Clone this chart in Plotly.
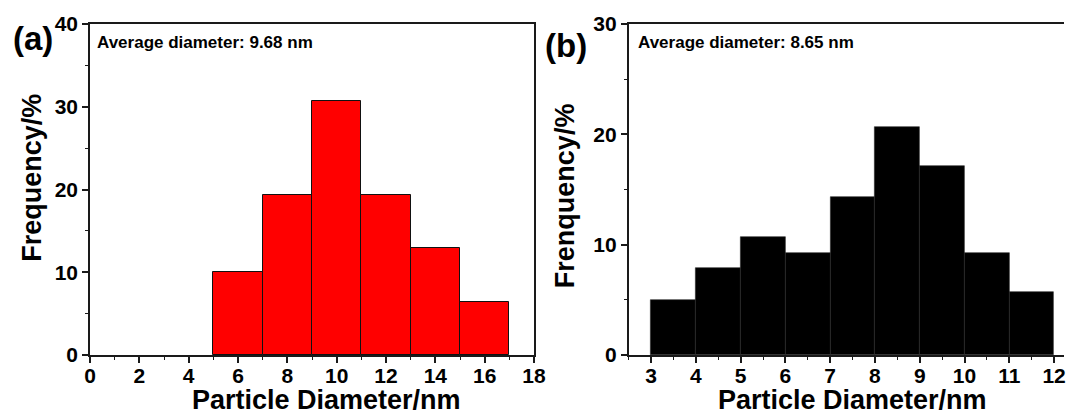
import plotly.graph_objects as go

# Panel (a): bin left edges (nm), bin width and frequency (%)
a_edges = [5, 7, 9, 11, 13, 15]
a_width = 2
a_freq = [10.0, 19.3, 30.7, 19.3, 12.9, 6.4]
a_xticks = [0, 2, 4, 6, 8, 10, 12, 14, 16, 18]
a_yticks = [0, 10, 20, 30, 40]

# Panel (b)
b_edges = [3, 4, 5, 6, 7, 8, 9, 10, 11]
b_width = 1
b_freq = [5.0, 7.86, 10.71, 9.29, 14.29, 20.71, 17.14, 9.29, 5.71]
b_xticks = [3, 4, 5, 6, 7, 8, 9, 10, 11, 12]
b_yticks = [0, 10, 20, 30]

a_note = "Average diameter: 9.68 nm"
b_note = "Average diameter: 8.65 nm"

FONT = "Liberation Sans"
AX = "#1a1a1a"

W, H = 1076, 416
ML, MR, MT, MB = 90, 0, 24, 61
PW, PH = W - ML - MR, H - MT - MB


def px(x):
    return (x - ML) / PW


def py(y):
    return (H - MB - y) / PH


def bold(vals):
    return [f"<b>{v}</b>" for v in vals]


fig = go.Figure()
fig.add_trace(go.Bar(
    x=[e + a_width / 2 for e in a_edges], y=a_freq, width=a_width,
    marker=dict(color="#ff0000", line=dict(color="#111111", width=1)),
    xaxis="x", yaxis="y", showlegend=False,
))
fig.add_trace(go.Bar(
    x=[e + b_width / 2 for e in b_edges], y=b_freq, width=b_width,
    marker=dict(color="#000000", line=dict(color="#2a2a2a", width=0.6)),
    xaxis="x2", yaxis="y2", showlegend=False,
))

tick_font = dict(family=FONT, size=21, color="#000000", weight=700)


def axis_common(ticks_list, **kw):
    d = dict(
        showline=True, linecolor=AX, linewidth=1.5,
        ticks="outside", ticklen=6, tickwidth=1.5, tickcolor=AX,
        tickmode="array", tickvals=ticks_list, ticktext=bold(ticks_list),
        tickfont=tick_font, showgrid=False, zeroline=False,
    )
    d.update(kw)
    return d


fig.update_layout(
    width=W, height=H,
    margin=dict(l=ML, r=MR, t=MT, b=MB, pad=0),
    paper_bgcolor="white", plot_bgcolor="white",
    bargap=0,
    xaxis=axis_common(
        a_xticks, domain=[0, px(539.5)], range=[0, 18], mirror=True,
        ticklabelstandoff=-5,
        minor=dict(dtick=1, tick0=0, ticklen=3, tickwidth=1.2, tickcolor=AX, ticks="outside"),
        anchor="y",
    ),
    yaxis=axis_common(
        a_yticks, range=[0, 40], mirror=True,
        minor=dict(dtick=5, tick0=0, ticklen=3, tickwidth=1.2, tickcolor=AX, ticks="outside"),
        anchor="x",
    ),
    xaxis2=axis_common(
        b_xticks, domain=[px(635.3), 1], range=[2.5, 12.222], mirror=True,
        ticklabelstandoff=-5,
        minor=dict(dtick=0.5, tick0=0, ticklen=3, tickwidth=1.2, tickcolor=AX, ticks="outside"),
        anchor="y2",
    ),
    yaxis2=axis_common(
        b_yticks, range=[0, 30], mirror=False,
        minor=dict(dtick=5, tick0=0, ticklen=3, tickwidth=1.2, tickcolor=AX, ticks="outside"),
        anchor="x2",
    ),
)

title_font = dict(family=FONT, size=27, color="#000000", weight="bold")
note_font = dict(family=FONT, size=17, color="#000000", weight="bold")
panel_font = dict(family=FONT, size=33, color="#000000", weight="bold")

notes = [
    dict(text="(a)", x=px(32), y=py(39), xanchor="center", yanchor="middle", font=panel_font),
    dict(text="(b)", x=px(572), y=py(45), xanchor="center", yanchor="middle", font=panel_font),
    dict(text=a_note, x=px(95), y=py(43), xanchor="left", yanchor="middle", font=note_font),
    dict(text=b_note, x=px(643), y=py(42), xanchor="left", yanchor="middle", font=note_font),
    dict(text="Frequency/%", x=px(31), y=py(178), xanchor="center", yanchor="middle",
         textangle=-90, font=title_font),
    dict(text="Frenquency/%", x=px(571), y=py(196), xanchor="center", yanchor="middle",
         textangle=-90, font=title_font),
    dict(text="Particle Diameter/nm", x=px(329), y=py(400), xanchor="center", yanchor="middle",
         font=title_font),
    dict(text="Particle Diameter/nm", x=px(861.7), y=py(400), xanchor="center", yanchor="middle",
         font=title_font),
]
for n in notes:
    fig.add_annotation(xref="paper", yref="paper", showarrow=False, **n)

fig.write_html("out.html")
